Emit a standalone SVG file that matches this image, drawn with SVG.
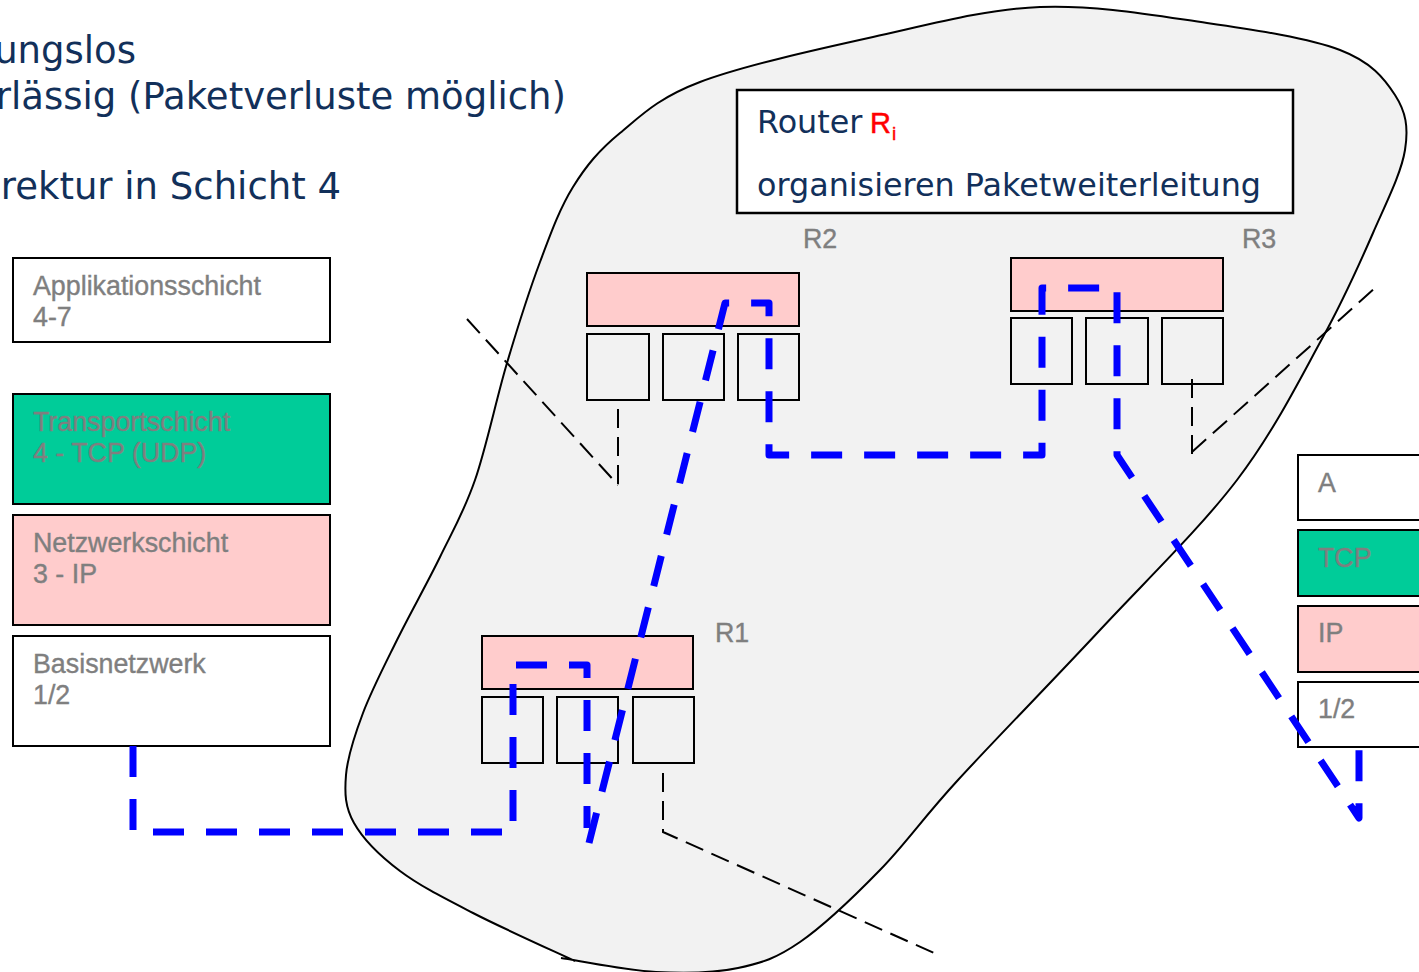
<svg xmlns="http://www.w3.org/2000/svg" width="1419" height="972" viewBox="0 0 1419 972">
  <style>
    .title { font-family: "DejaVu Sans", "Noto Sans", sans-serif; font-size: 37px; fill: #12305A; }
    .navy { font-family: "DejaVu Sans", "Noto Sans", sans-serif; font-size: 31.8px; fill: #12305A; }
    .redR { font-family: "Liberation Sans", Arial, sans-serif; font-size: 29px; fill: #FF0000; stroke: #FF0000; stroke-width: 0.5; }
    .redI { font-family: "Liberation Sans", Arial, sans-serif; font-size: 19px; fill: #FF0000; stroke: #FF0000; stroke-width: 0.4; }
    .lbl { font-family: "Liberation Sans", Arial, sans-serif; font-size: 26.8px; fill: #7F7F7F; stroke: #7F7F7F; stroke-width: 0.4; }
    .box { stroke: #000; stroke-width: 2; }
    .white { fill: #FFFFFF; }
    .green { fill: #00CC99; }
    .pink { fill: #FFCCCC; }
    .port { fill: none; stroke: #000; stroke-width: 2; }
    .guide { fill: none; stroke: #000; stroke-width: 2; stroke-dasharray: 19 9; }
    .route { fill: none; stroke: #0000FF; stroke-width: 7; stroke-dasharray: 31 22; stroke-linejoin: round; }
  </style>

  <rect width="1419" height="972" fill="#FFFFFF"/>

  <!-- heading lines (left part runs off the canvas) -->
  <g id="heading">
    <text class="title" x="136" y="63" text-anchor="end">ungslos</text>
    <text class="title" x="566" y="109" text-anchor="end">rlässig (Paketverluste möglich)</text>
    <text class="title" x="341" y="199" text-anchor="end">rektur in Schicht 4</text>
  </g>

  <!-- network cloud -->
  <path id="cloud" fill="#F2F2F2" stroke="#000" stroke-width="2"
        d="M575,961 C558,953 502,928 473,913 C444,898 420,886 400,871 C380,856 363,839 354,823
           C345,807 344.5,793.3 346,775 C347.5,756.7 354.5,735.5 363,713 C371.5,690.5 384.2,666 397,640
           C409.8,614 427,583.7 440,557 C453,530.3 463.8,512.3 475,480 C486.2,447.7 496.2,399.3 507,363
           C517.8,326.7 529,291.3 540,262 C551,232.7 559.7,208.5 573,187 C586.3,165.5 598.8,150.5 620,133
           C641.2,115.5 657.8,98 700,82 C742.2,66 816.3,49.5 873,37 C929.7,24.5 984.3,9.3 1040,7
           C1095.7,4.7 1157,15.8 1207,23 C1257,30.2 1308.7,38 1340,50 C1371.3,62 1384.2,78.3 1395,95
           C1405.8,111.7 1408.7,127 1405,150 C1401.3,173 1386.7,201.8 1373,233 C1359.3,264.2 1345.7,295.8 1323,337
           C1300.3,378.2 1274.2,431.2 1237,480 C1199.8,528.8 1146.5,580 1100,630 C1053.5,680 994.7,740 958,780
           C921.3,820 906.3,843 880,870 C853.7,897 823.7,925.7 800,942 C776.3,958.3 762,963 738,968
           C714,973 685.5,973.7 656,972 C626.5,970.3 576.8,960.3 561,958"/>

  <!-- layer stack on the left -->
  <g id="layer-app">
    <rect class="box white" x="13" y="258" width="317" height="84"/>
    <text class="lbl" x="33" y="295">Applikationsschicht</text>
    <text class="lbl" x="33" y="326">4-7</text>
  </g>
  <g id="layer-transport">
    <rect class="box green" x="13" y="394" width="317" height="110"/>
    <text class="lbl" x="33" y="431">Transportschicht</text>
    <text class="lbl" x="33" y="462">4 - TCP (UDP)</text>
  </g>
  <g id="layer-network">
    <rect class="box pink" x="13" y="515" width="317" height="110"/>
    <text class="lbl" x="33" y="552">Netzwerkschicht</text>
    <text class="lbl" x="33" y="583">3 - IP</text>
  </g>
  <g id="layer-link">
    <rect class="box white" x="13" y="636" width="317" height="110"/>
    <text class="lbl" x="33" y="673">Basisnetzwerk</text>
    <text class="lbl" x="33" y="704">1/2</text>
  </g>

  <!-- layer stack on the right (clipped by the canvas edge) -->
  <g id="stack-a">
    <rect class="box white" x="1298" y="455" width="130" height="65"/>
    <text class="lbl" x="1318" y="492">A</text>
  </g>
  <g id="stack-tcp">
    <rect class="box green" x="1298" y="530" width="130" height="66"/>
    <text class="lbl" x="1318" y="567">TCP</text>
  </g>
  <g id="stack-ip">
    <rect class="box pink" x="1298" y="606" width="130" height="66"/>
    <text class="lbl" x="1318" y="642">IP</text>
  </g>
  <g id="stack-link">
    <rect class="box white" x="1298" y="682" width="130" height="65"/>
    <text class="lbl" x="1318" y="718">1/2</text>
  </g>

  <!-- info box -->
  <g id="router-info">
    <rect x="737" y="90" width="556" height="123" fill="#FFFFFF" stroke="#000" stroke-width="2.5"/>
    <text class="navy" x="757" y="133">Router</text>
    <text class="redR" x="870" y="133">R</text>
    <text class="redI" x="892" y="140">i</text>
    <text class="navy" x="757" y="196">organisieren Paketweiterleitung</text>
  </g>

  <!-- routers -->
  <g id="router-r1">
    <rect class="box pink" x="482" y="636" width="211" height="53"/>
    <rect class="port" x="482" y="697" width="61" height="66"/>
    <rect class="port" x="557" y="697" width="61" height="66"/>
    <rect class="port" x="633" y="697" width="61" height="66"/>
    <text class="lbl" x="715" y="642">R1</text>
  </g>
  <g id="router-r2">
    <rect class="box pink" x="587" y="273" width="212" height="53"/>
    <rect class="port" x="587" y="334" width="62" height="66"/>
    <rect class="port" x="663" y="334" width="61" height="66"/>
    <rect class="port" x="738" y="334" width="61" height="66"/>
    <text class="lbl" x="803" y="248">R2</text>
  </g>
  <g id="router-r3">
    <rect class="box pink" x="1011" y="258" width="212" height="53"/>
    <rect class="port" x="1011" y="318" width="61" height="66"/>
    <rect class="port" x="1086" y="318" width="62" height="66"/>
    <rect class="port" x="1162" y="318" width="61" height="66"/>
    <text class="lbl" x="1242" y="248">R3</text>
  </g>

  <!-- connectors -->
  <g id="connectors">
    <!-- attached links -->
    <path class="guide" d="M618,409 V488"/>
    <path class="guide" d="M467,319 L618,485"/>
    <path class="guide" d="M1192,379 V458"/>
    <path class="guide" d="M1192,452 L1375,288"/>
    <path class="guide" d="M663,773 V832 L934,953"/>
    <!-- packet route -->
    <path class="route" d="M133,746 V832 H513 V665 H587 V828"/>
    <path class="route" d="M589,843 L725,303 H769 V455 H1042 V288 H1117 V455 L1359,818 V747"/>
  </g>
</svg>
